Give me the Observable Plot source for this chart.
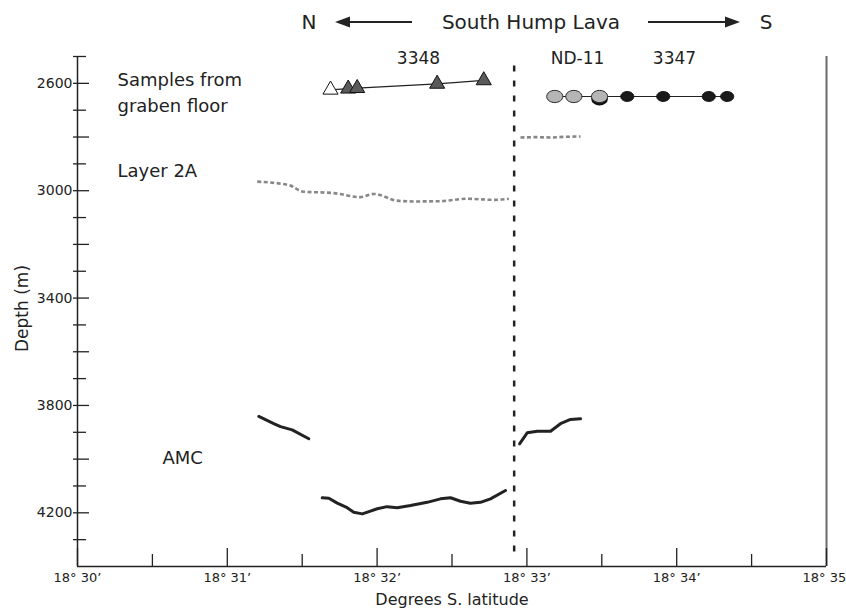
<!DOCTYPE html>
<html><head><meta charset="utf-8">
<script src="https://cdn.jsdelivr.net/npm/d3@7"></script>
<script src="https://cdn.jsdelivr.net/npm/@observablehq/plot@0.6"></script>
<style>
body{margin:0;background:#fff;}
#wrap{position:relative;width:846px;height:614px;font-family:"DejaVu Sans",sans-serif;}
#hdr{position:absolute;left:0;top:0;}
</style></head><body>
<div id="wrap"><div id="chart"></div>
<svg id="hdr" width="846" height="45" font-family="DejaVu Sans, sans-serif" fill="#222">
  <text x="309" y="29" text-anchor="middle" font-size="20">N</text>
  <line x1="346" y1="22" x2="412" y2="22" stroke="#222" stroke-width="2"/>
  <polygon points="335,22 350,16.5 350,27.5" fill="#222"/>
  <text x="531" y="29" text-anchor="middle" font-size="20">South Hump Lava</text>
  <line x1="648" y1="22" x2="728" y2="22" stroke="#222" stroke-width="2"/>
  <polygon points="740,22 725,16.5 725,27.5" fill="#222"/>
  <text x="766" y="29" text-anchor="middle" font-size="20">S</text>
</svg></div>
<script>
// ---- scales / ticks ----
const xDomain = [30, 35];            // minutes past 18° S
const yDomain = [2500, 4400];        // depth (m)
const xLabelTicks = [30, 31, 32, 33, 34, 35];
const xMinorTicks = [30.5, 31.5, 32.5, 33.5, 34.5];
const yLabelTicks = [2600, 3000, 3400, 3800, 4200];
const yMajorTicks = [2600, 2800, 3000, 3200, 3400, 3600, 3800, 4000, 4200];
const yMinorTicks = [2500, 2700, 2900, 3100, 3300, 3500, 3700, 3900, 4100, 4300];

// ---- divider (ND-11 boundary) ----
const dividerLat = [32.915];
const dividerDepth = [2535, 4370];

// ---- Layer 2A ----
const layer2aNorthLat = [31.200, 31.422, 31.500, 31.711, 31.889, 31.978, 32.134, 32.245, 32.423, 32.601, 32.779, 32.879];
const layer2aNorthDepth = [2966, 2981, 3003, 3009, 3024, 3012, 3037, 3040, 3039, 3030, 3034, 3030];
const layer2aSouthLat = [32.957, 33.057, 33.157, 33.257, 33.358];
const layer2aSouthDepth = [2802, 2800, 2802, 2799, 2798];

// ---- AMC ----
const amcNorthLat = [31.210, 31.310, 31.355, 31.433, 31.544];
const amcNorthDepth = [3841, 3868, 3879, 3891, 3924];
const amcCenterLat = [31.634, 31.678, 31.734, 31.800, 31.844, 31.901, 32.001, 32.067, 32.134, 32.223, 32.334, 32.423, 32.490, 32.557, 32.623, 32.690, 32.757, 32.857];
const amcCenterDepth = [4144, 4146, 4164, 4181, 4198, 4204, 4185, 4177, 4181, 4173, 4161, 4148, 4144, 4157, 4164, 4161, 4148, 4117];
const amcSouthLat = [32.951, 33.002, 33.069, 33.158, 33.224, 33.291, 33.358];
const amcSouthDepth = [3943, 3902, 3896, 3896, 3868, 3852, 3850];

// ---- samples ----
const s3348Lat = [31.689, 31.807, 31.867, 32.401, 32.712];
const s3348Depth = [2624, 2620, 2618, 2602, 2589];
const s3348Kind = ["open", "dark", "dark", "dark", "dark"];
const s3347Lat = [33.186, 33.313, 33.485, 33.670, 33.910, 34.214, 34.337];
const s3347Depth = [2649, 2649, 2649, 2649, 2649, 2649, 2649];
const s3347Kind = ["gray", "gray", "gray", "black", "black", "black", "black"];
const s3347HiddenLat = [33.485];
const s3347HiddenDepth = [2658];

// ---- labels ----
const groupNames = ["3348", "ND-11", "3347"];
const groupLat = [32.276, 33.338, 33.985];
const groupDepth = [2507, 2507, 2507];
const noteText = ["Samples from\ngraben floor", "Layer 2A", "AMC"];
const noteLat = [30.267, 30.267, 30.567];
const noteDepth = [2626, 2917, 3987];
const xTitle = "Degrees S. latitude";
const yTitle = "Depth (m)";

const rows = (xs, ys, extra) => xs.map((x, i) => ({x, y: ys[i], k: extra ? extra[i] : null}));

// ellipse symbol (figure is horizontally stretched)
const ellipse = {
  draw(ctx, size) {
    const r = Math.sqrt(size / Math.PI), rx = r * 1.15, ry = r * 0.87, k = 0.5523;
    ctx.moveTo(rx, 0);
    ctx.bezierCurveTo(rx, ry * k, rx * k, ry, 0, ry);
    ctx.bezierCurveTo(-rx * k, ry, -rx, ry * k, -rx, 0);
    ctx.bezierCurveTo(-rx, -ry * k, -rx * k, -ry, 0, -ry);
    ctx.bezierCurveTo(rx * k, -ry, rx, -ry * k, rx, 0);
    ctx.closePath();
  }
};

const tri = rows(s3348Lat, s3348Depth, s3348Kind);
const circ = rows(s3347Lat, s3347Depth, s3347Kind);

const chart = Plot.plot({
  width: 846, height: 614,
  marginTop: 56, marginRight: 20, marginBottom: 48, marginLeft: 77,
  style: {fontFamily: '"DejaVu Sans", sans-serif', background: "#fff", color: "#222"},
  x: {domain: xDomain},
  y: {domain: yDomain, reverse: true},
  marks: [
    // frame lines
    Plot.ruleX([xDomain[1]], {stroke: "#6b6b6b", strokeWidth: 2}),
    Plot.ruleX([xDomain[0]], {stroke: "#222", strokeWidth: 1.5}),
    Plot.ruleY([yDomain[1]], {stroke: "#222", strokeWidth: 1.5}),
    // ticks (inward)
    Plot.axisY(yMajorTicks, {tickSize: 16, dx: 12, tickFormat: () => "", label: null, strokeWidth: 1.3}),
    Plot.axisY(yMinorTicks, {tickSize: 13, dx: 9, tickFormat: () => "", label: null, strokeWidth: 1.3}),
    Plot.axisY(yLabelTicks, {tickSize: 0, tickPadding: 5, tickFormat: d => String(d), fontSize: 14, label: null}),
    Plot.axisX(xLabelTicks, {tickSize: 18, dy: -18, tickFormat: () => "", label: null, strokeWidth: 1.3}),
    Plot.axisX(xMinorTicks, {tickSize: 12, dy: -12, tickFormat: () => "", label: null, strokeWidth: 1.3}),
    Plot.axisX(xLabelTicks, {tickSize: 0, tickPadding: 6, tickFormat: d => `18° ${d}’`, fontSize: 13, label: null}),
    Plot.text([xTitle], {frameAnchor: "bottom", dy: 38, fontSize: 16, fill: "#222"}),
    Plot.text([yTitle], {frameAnchor: "left", textAnchor: "middle", rotate: -90, dx: -55, dy: -3, fontSize: 17, fill: "#222"}),
    // divider
    Plot.ruleX(dividerLat, {y1: dividerDepth[0], y2: dividerDepth[1], stroke: "#222", strokeWidth: 2.5, strokeDasharray: "6,9", strokeLinecap: "butt"}),
    // layer 2A
    Plot.line(rows(layer2aNorthLat, layer2aNorthDepth), {x: "x", y: "y", stroke: "#888", strokeWidth: 2.6, strokeDasharray: "4,2.5", strokeLinecap: "butt", curve: "monotone-x"}),
    Plot.line(rows(layer2aSouthLat, layer2aSouthDepth), {x: "x", y: "y", stroke: "#888", strokeWidth: 2.6, strokeDasharray: "4,2.5", strokeLinecap: "butt"}),
    // AMC
    Plot.line(rows(amcNorthLat, amcNorthDepth), {x: "x", y: "y", stroke: "#222", strokeWidth: 3}),
    Plot.line(rows(amcCenterLat, amcCenterDepth), {x: "x", y: "y", stroke: "#222", strokeWidth: 3}),
    Plot.line(rows(amcSouthLat, amcSouthDepth), {x: "x", y: "y", stroke: "#222", strokeWidth: 3}),
    // samples 3348 (triangles)
    Plot.line(tri, {x: "x", y: "y", stroke: "#222", strokeWidth: 1.2}),
    Plot.dot(tri.filter(d => d.k === "open"), {x: "x", y: "y", symbol: "triangle", r: 5.6, stroke: "#111", strokeWidth: 1, fill: "#fff"}),
    Plot.dot(tri.filter(d => d.k === "dark"), {x: "x", y: "y", symbol: "triangle", r: 5.6, stroke: "#111", strokeWidth: 1, fill: "#5a5a5a"}),
    // samples 3347 (circles)
    Plot.line(circ, {x: "x", y: "y", stroke: "#222", strokeWidth: 1.2}),
    Plot.dot(rows(s3347HiddenLat, s3347HiddenDepth), {x: "x", y: "y", symbol: ellipse, r: 6.6, fill: "#1a1a1a", stroke: "#111"}),
    Plot.dot(circ.filter(d => d.k === "gray"), {x: "x", y: "y", symbol: ellipse, r: 7, fill: "#b5b5b5", stroke: "#222", strokeWidth: 1}),
    Plot.dot(circ.filter(d => d.k === "black"), {x: "x", y: "y", symbol: ellipse, r: 5.7, fill: "#1a1a1a", stroke: "#111", strokeWidth: 1}),
    // labels
    Plot.text(groupNames.map((t, i) => ({t, x: groupLat[i], y: groupDepth[i]})), {x: "x", y: "y", text: "t", fontSize: 17, fill: "#222"}),
    Plot.text(noteText.map((t, i) => ({t, x: noteLat[i], y: noteDepth[i]})), {x: "x", y: "y", text: "t", fontSize: 18, textAnchor: "start", lineHeight: 1.45, fill: "#222"})
  ]
});
document.getElementById("chart").appendChild(chart);
</script>
</body></html>
